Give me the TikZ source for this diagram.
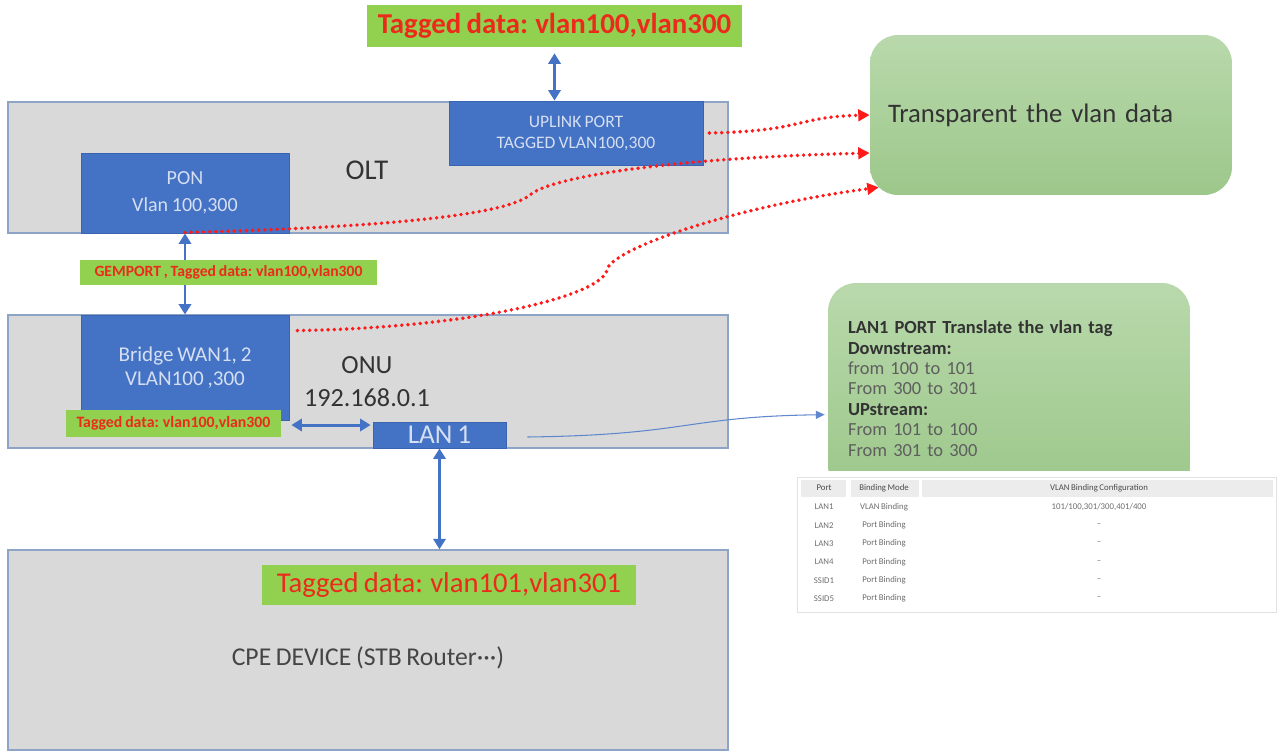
\documentclass[tikz,border=0pt]{standalone}
\usepackage{fontspec}
\setmainfont{Carlito}[WordSpace=0.8]
\usetikzlibrary{arrows.meta, positioning, calc}
\definecolor{boxgray}{HTML}{D9D9D9}
\definecolor{boxedge}{HTML}{8EA4C6}
\definecolor{portblue}{HTML}{4472C4}
\definecolor{portedge}{HTML}{3A63B0}
\definecolor{porttext}{HTML}{D5DFF2}
\definecolor{tagfill}{HTML}{92D050}
\definecolor{tagred}{HTML}{EC2A1C}
\definecolor{dotred}{HTML}{FF1A1A}
\definecolor{notetop}{HTML}{B9D9AC}
\definecolor{notebot}{HTML}{9CC78A}
\definecolor{dkgray}{HTML}{333333}
\definecolor{midgray}{HTML}{454545}
\definecolor{notegray}{HTML}{5E5E5E}
\definecolor{tblgray}{HTML}{6E6E6E}
\definecolor{tbldark}{HTML}{4A4A4A}
\definecolor{tblhead}{HTML}{ECECEC}
\definecolor{tbledge}{HTML}{E2E2E2}

\begin{document}
\begin{tikzpicture}[x=0.02cm, y=-0.02cm,
  device/.style={draw=boxedge, fill=boxgray, line width=0.8pt, minimum width=14.4cm, inner sep=0pt},
  port/.style={draw=portedge, fill=portblue, line width=0.5pt, text=porttext, align=center, inner sep=0pt},
  tag/.style={fill=tagfill, text=tagred, inner sep=0pt},
  note/.style={top color=notetop, bottom color=notebot, rounded corners=0.56cm, align=left, text=dkgray},
  link/.style={draw=portblue, line width=1.7pt, {Triangle[length=6pt,width=7pt]}-{Triangle[length=6pt,width=7pt]}},
  thinlink/.style={draw=portblue!85, line width=0.6pt, -{Triangle[length=5pt,width=4.5pt]}},
  reddots/.style={draw=dotred, line width=2.2pt, line cap=round, dash pattern=on 0pt off 3.5pt, -{Triangle[length=6.5pt,width=6.5pt]}},
  tbltext/.style={font=\fontsize{5}{6}\selectfont, text=tblgray, inner sep=0pt}]

% Background
\fill[white] (0,0) rectangle (1277,754);
\useasboundingbox (0,0) rectangle (1277,754);

% ============================================================
% Devices
% ============================================================
\node[device, minimum height=2.62cm] (olt) at (368,167.5) {};
\node[device, minimum height=2.66cm] (onu) at (368,381.5) {};
\node[device, minimum height=4.0cm] (cpe) at (368,650) {};

\node[text=dkgray, font=\fontsize{16.3}{18}\selectfont] (oltname) at (367,170) {OLT};
\node[text=dkgray, align=center, font=\fontsize{14.9}{18.7}\selectfont] (onuname) at (367,382) {ONU\\192.168.0.1};
\node[text=midgray, font=\fontsize{14.6}{16}\selectfont] (cpename) at (368,658) {CPE DEVICE (STB Router···)};

% Ports
\node[port, minimum width=5.08cm, minimum height=1.28cm, font=\fontsize{10}{11.9}\selectfont] (uplink) at (576,133) {UPLINK PORT\\TAGGED VLAN100,300};
\node[port, minimum width=4.16cm, minimum height=1.6cm, font=\fontsize{11.4}{15.3}\selectfont] (pon) at (185,193) {PON\\Vlan 100,300};
\node[port, minimum width=4.16cm, minimum height=2.1cm, font=\fontsize{12}{14.2}\selectfont] (bridge) at (185,367.5) {Bridge WAN1, 2\\VLAN100 ,300};
\node[port, minimum width=2.66cm, minimum height=0.52cm, font=\fontsize{15.5}{16}\selectfont] (lan1) at (439.5,435) {LAN 1};

% ============================================================
% Notes
% ============================================================
\node[note, minimum width=7.24cm, minimum height=3.2cm, inner xsep=0.36cm, text width=6.52cm, font=\fontsize{15.2}{17}\selectfont] (transp) at (1051,115) {Transparent the vlan data};
\node[note, minimum width=7.24cm, minimum height=4.22cm, inner xsep=0.4cm, text width=6.44cm, font=\fontsize{10.5}{11.6}\selectfont] (lannote) at (1009,388.5)
  {{\bfseries LAN1 PORT Translate the vlan tag}\\
   {\bfseries Downstream:}\\
   {\color{notegray}from 100 to 101}\\
   {\color{notegray}From 300 to 301}\\
   {\bfseries UPstream:}\\
   {\color{notegray}From 101 to 100}\\
   {\color{notegray}From 301 to 300}};

% ============================================================
% Transparent paths (red dots)
% ============================================================
\coordinate (ponbend) at (530,195);
\coordinate (wanbend) at (607,270);

\draw[reddots] ($(uplink.east)+(6,0)$) .. controls +(95,-2) and +(-75,2) .. (transp.west);
\draw[reddots] ($(pon.south)+(0,-1)$) .. controls +(200,-5) and +(-25,20) .. (ponbend)
  .. controls +(20,-18) and +(-200,5) .. ($(transp.west)+(0,38)$);
\draw[reddots] ($(bridge.north east)+(8,16)$) .. controls +(180,-3) and +(-5,25) .. (wanbend)
  .. controls +(3,-20) and +(-150,20) .. ($(transp.south west)+(9,-8)$);

% GEM port link sits under its label
\draw[link] (pon.south) -- (bridge.north);

% Tagged data labels
\node[tag, minimum width=7.5cm, minimum height=0.84cm, font=\fontsize{16.4}{18}\selectfont\bfseries] (toptag) at (554.5,26) {Tagged data: vlan100,vlan300};
\node[tag, minimum width=5.94cm, minimum height=0.5cm, font=\fontsize{8.9}{10}\selectfont\bfseries] (gemtag) at (228.5,272.5) {GEMPORT , Tagged data: vlan100,vlan300};
\node[tag, minimum width=4.3cm, minimum height=0.54cm, font=\fontsize{9}{10}\selectfont\bfseries] (brtag) at (173.5,423.5) {Tagged data: vlan100,vlan300};
\node[tag, minimum width=7.48cm, minimum height=0.8cm, font=\fontsize{16.3}{18}\selectfont] (cpetag) at (449,585) {Tagged data: vlan101,vlan301};

% ============================================================
% Links
% ============================================================
\draw[link, shorten <=3.4pt] (toptag.south) -- (toptag.south |- uplink.north);
\draw[link] ($(bridge.east |- brtag.east)+(2,1.5)$) -- ($(lan1.west |- brtag.east)+(-2,1.5)$);
\draw[link] (lan1.south) -- (lan1.south |- cpe.north);
\draw[thinlink] ($(lan1.east)+(21,2)$) .. controls +(160,-2) and +(-140,2) .. ($(lannote.north west)+(-3,132)$);

% ============================================================
% Binding table
% ============================================================
\fill[white] (786,471) rectangle (1277,616);
\draw[tbledge, fill=white, line width=0.4pt] (797,477) rectangle (1276,612);
\foreach \xa/\xb in {801/846, 851/919, 922/1273}
  \fill[tblhead] (\xa,480) rectangle (\xb,497);
\node[tbltext, text=tbldark] (hport) at (824,488) {Port};
\node[tbltext, text=tbldark] (hmode) at (884,488) {Binding Mode};
\node[tbltext, text=tbldark] (hconf) at (1099,488) {VLAN Binding Configuration};
\foreach \i/\port/\mode/\conf in {1/LAN1/VLAN Binding/{101/100,301/300,401/400}, 2/LAN2/Port Binding/--, 3/LAN3/Port Binding/--, 4/LAN4/Port Binding/--, 5/SSID1/Port Binding/--, 6/SSID5/Port Binding/--} {
  \pgfmathsetmacro{\ry}{507+(\i-1)*18.3}
  \node[tbltext] (port\i) at (824,\ry) {\port};
  \node[tbltext] (mode\i) at (884,\ry) {\mode};
  \node[tbltext] (conf\i) at (1099,\ry) {\conf};
}

\end{tikzpicture}
\end{document}
